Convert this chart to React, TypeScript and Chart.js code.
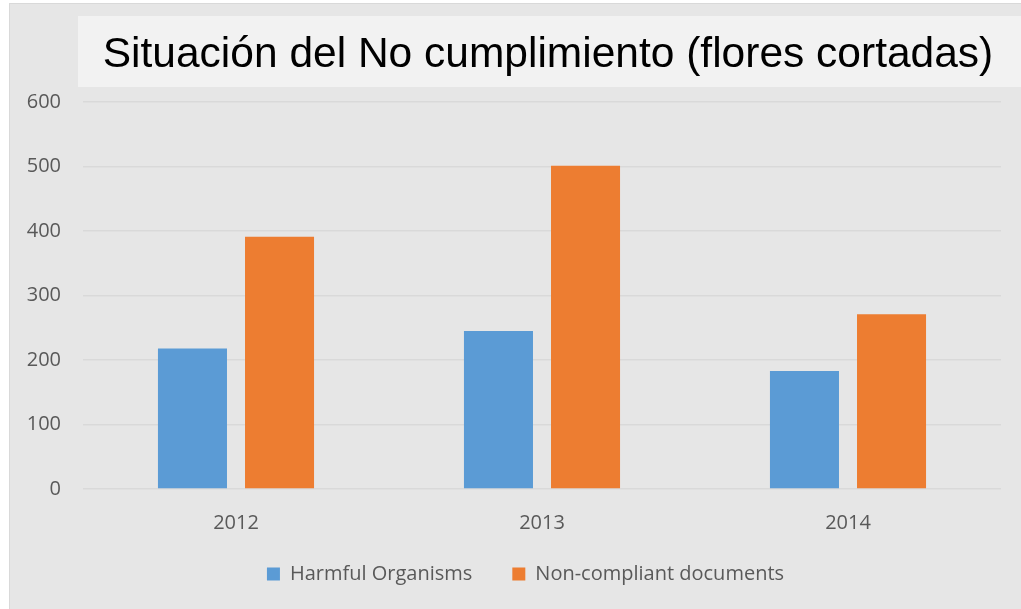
import React, { useEffect, useRef } from "react";
import { Chart, registerables } from "chart.js";

Chart.register(...registerables);

const categories = ["2012", "2013", "2014"];
const harmfulOrganisms = [218, 245, 183];
const nonCompliantDocuments = [391, 501, 271];
const titleText = "Situación del No cumplimiento (flores cortadas)";
const seriesNames = ["Harmful Organisms", "Non-compliant documents"];

const framePlugin = {
  id: "framePlugin",
  beforeLayout(chart: any) {
    const lg = chart.legend;
    if (lg && !lg._patched) {
      const orig = lg.fit.bind(lg);
      lg.fit = function () {
        orig();
        this.height = 70;
      };
      lg._patched = true;
    }
  },
  afterLayout(chart: any) {
    const lg = chart.legend;
    if (lg) {
      lg.top = 520;
      lg.bottom = 590;
      lg.left = lg.left + 20;
      lg.right = lg.right + 20;
    }
  },
  beforeDraw(chart: any) {
    const ctx = chart.ctx;
    ctx.save();
    ctx.fillStyle = "#e6e6e6";
    ctx.fillRect(0, 0, chart.width, chart.height);
    ctx.fillStyle = "#f2f2f2";
    ctx.fillRect(68, 12, chart.width - 68, 71);
    ctx.fillStyle = "#000000";
    ctx.font = "42.5px 'Liberation Sans', Arial, sans-serif";
    ctx.textAlign = "center";
    ctx.textBaseline = "alphabetic";
    ctx.fillText(titleText, 538, 63);
    ctx.restore();
  },
};

export default function App() {
  const ref = useRef<HTMLCanvasElement | null>(null);
  useEffect(() => {
    if (!ref.current) return;
    const chart = new Chart(ref.current, {
      type: "bar",
      data: {
        labels: categories,
        datasets: [
          {
            label: seriesNames[0],
            data: harmfulOrganisms,
            backgroundColor: "#5b9bd5",
            categoryPercentage: 0.569,
            barPercentage: 0.793,
          },
          {
            label: seriesNames[1],
            data: nonCompliantDocuments,
            backgroundColor: "#ed7d31",
            categoryPercentage: 0.569,
            barPercentage: 0.793,
          },
        ],
      },
      options: {
        animation: false,
        responsive: false,
        layout: { padding: { top: 98, left: 0, right: 20, bottom: 0 } },
        scales: {
          x: {
            grid: { display: false },
            border: { display: false },
            ticks: {
              color: "#595959",
              font: { family: "Open Sans", size: 20 },
              padding: 14,
            },
            afterFit(scale: any) {
              scale.height = 50;
            },
          },
          y: {
            min: 0,
            max: 600,
            ticks: {
              stepSize: 100,
              color: "#595959",
              font: { family: "Open Sans", size: 20 },
              padding: 22,
            },
            grid: { color: "#d9d9d9", lineWidth: 1.5, drawTicks: false },
            border: { display: false },
            afterFit(scale: any) {
              scale.width = 73;
            },
          },
        },
        plugins: {
          title: { display: false },
          legend: {
            position: "bottom",
            labels: {
              boxWidth: 13,
              boxHeight: 13,
              color: "#595959",
              font: { family: "Open Sans", size: 20 },
              padding: 40,
            },
          },
          tooltip: { enabled: false },
        },
      },
      plugins: [framePlugin],
    });
    return () => chart.destroy();
  }, []);
  return (
    <div style={{ position: "absolute", left: 0, top: 0, width: 1021, height: 609, background: "#ffffff" }}>
      <div
        style={{
          position: "absolute",
          left: 9,
          top: 3,
          width: 1012,
          height: 606,
          background: "#e6e6e6",
          borderLeft: "1px solid #d9d9d9",
          borderTop: "1px solid #d9d9d9",
          boxSizing: "border-box",
        }}
      />
      <canvas ref={ref} width={1011} height={605} style={{ position: "absolute", left: 10, top: 4, width: 1011, height: 605 }} />
    </div>
  );
}
